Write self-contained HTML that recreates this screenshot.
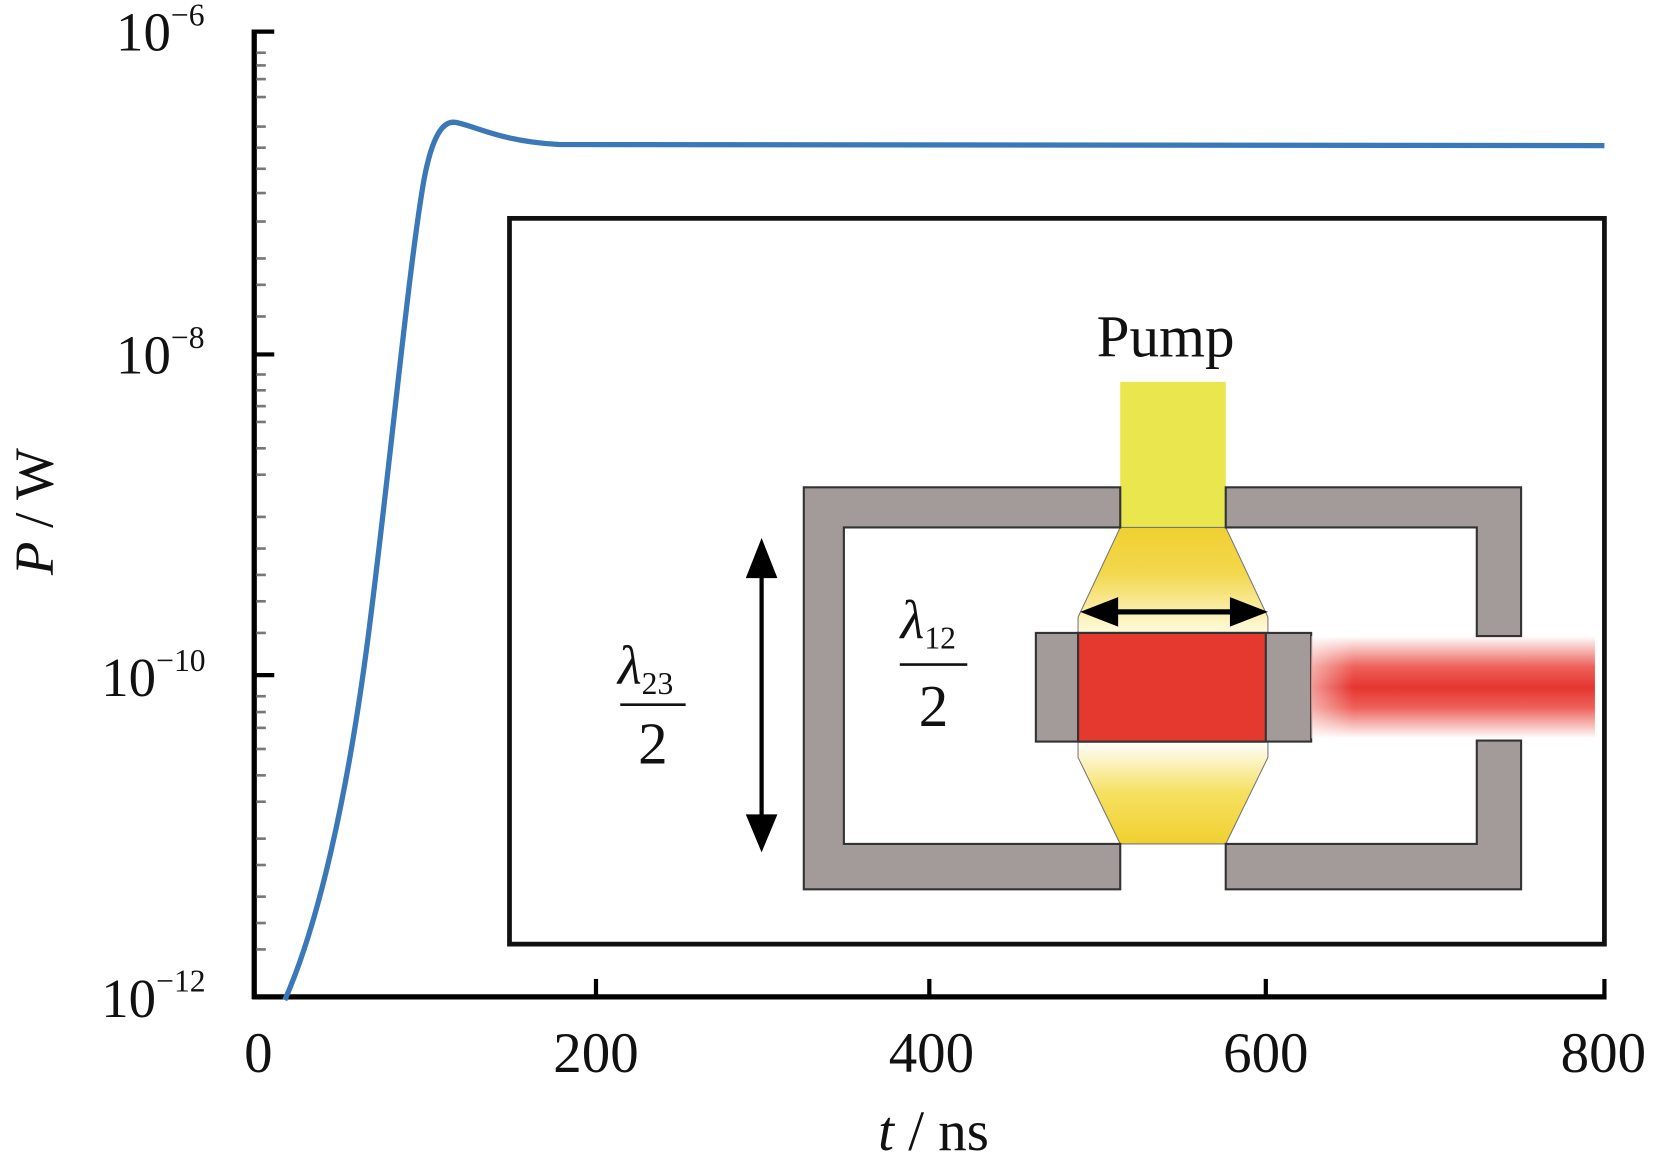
<!DOCTYPE html>
<html><head><meta charset="utf-8"><style>html,body{margin:0;padding:0;background:#fff}svg{display:block}svg text{font-family:"Liberation Serif","Times New Roman",serif}</style></head>
<body>
<svg width="1654" height="1153" viewBox="0 0 1568 1093" preserveAspectRatio="none" xmlns="http://www.w3.org/2000/svg">
<defs>
<linearGradient id="yt" x1="0" y1="0" x2="0" y2="1"><stop offset="0" stop-color="#f0d030"/><stop offset="0.45" stop-color="#f3d850"/><stop offset="1" stop-color="#fffbe0"/></linearGradient>
<linearGradient id="yb" x1="0" y1="0" x2="0" y2="1"><stop offset="0" stop-color="#ffffff"/><stop offset="0.5" stop-color="#f6e060"/><stop offset="1" stop-color="#f0d030"/></linearGradient>
<linearGradient id="rb" x1="0" y1="0" x2="0" y2="1"><stop offset="0" stop-color="#e83a30" stop-opacity="0"/><stop offset="0.3" stop-color="#e83a30" stop-opacity="0.8"/><stop offset="0.5" stop-color="#e53530"/><stop offset="0.7" stop-color="#e83a30" stop-opacity="0.8"/><stop offset="1" stop-color="#e83a30" stop-opacity="0"/></linearGradient>
<linearGradient id="rbx" x1="0" y1="0" x2="1" y2="0"><stop offset="0" stop-color="#fff" stop-opacity="0.5"/><stop offset="0.15" stop-color="#fff" stop-opacity="0"/></linearGradient>
</defs>
<g stroke="#000" stroke-width="5" fill="none">
<line x1="241" y1="28" x2="241" y2="947"/>
<line x1="239" y1="945" x2="1523" y2="945"/>
</g>
<g stroke="#000" stroke-width="4">
<line x1="241" y1="30" x2="260" y2="30"/><line x1="241" y1="336" x2="260" y2="336"/><line x1="241" y1="640" x2="260" y2="640"/>
<line x1="565" y1="945" x2="565" y2="928"/><line x1="881" y1="945" x2="881" y2="928"/><line x1="1200" y1="945" x2="1200" y2="928"/><line x1="1521" y1="945" x2="1521" y2="928"/>
</g>
<g stroke="#777" stroke-width="2.5">
<line x1="243" y1="50" x2="252" y2="50"/><line x1="243" y1="62" x2="252" y2="62"/><line x1="243" y1="75" x2="252" y2="75"/><line x1="243" y1="92" x2="252" y2="92"/><line x1="243" y1="120" x2="252" y2="120"/><line x1="243" y1="140" x2="252" y2="140"/><line x1="243" y1="160" x2="252" y2="160"/><line x1="243" y1="183" x2="252" y2="183"/><line x1="243" y1="210" x2="252" y2="210"/><line x1="243" y1="245" x2="252" y2="245"/><line x1="243" y1="270" x2="252" y2="270"/><line x1="243" y1="300" x2="252" y2="300"/>
<line x1="243" y1="355" x2="252" y2="355"/><line x1="243" y1="370" x2="252" y2="370"/><line x1="243" y1="385" x2="252" y2="385"/><line x1="243" y1="400" x2="252" y2="400"/><line x1="243" y1="425" x2="252" y2="425"/><line x1="243" y1="450" x2="252" y2="450"/><line x1="243" y1="490" x2="252" y2="490"/><line x1="243" y1="520" x2="252" y2="520"/><line x1="243" y1="545" x2="252" y2="545"/><line x1="243" y1="570" x2="252" y2="570"/><line x1="243" y1="600" x2="252" y2="600"/>
<line x1="243" y1="660" x2="252" y2="660"/><line x1="243" y1="675" x2="252" y2="675"/><line x1="243" y1="690" x2="252" y2="690"/><line x1="243" y1="710" x2="252" y2="710"/><line x1="243" y1="735" x2="252" y2="735"/><line x1="243" y1="760" x2="252" y2="760"/><line x1="243" y1="795" x2="252" y2="795"/><line x1="243" y1="820" x2="252" y2="820"/><line x1="243" y1="850" x2="252" y2="850"/><line x1="243" y1="875" x2="252" y2="875"/><line x1="243" y1="900" x2="252" y2="900"/>
</g>
<g font-size="52" fill="#111">
<text x="110" y="48">10<tspan font-size="30" dy="-24">−6</tspan></text>
<text x="110" y="354">10<tspan font-size="30" dy="-24">−8</tspan></text>
<text x="96" y="660">10<tspan font-size="30" dy="-24">−10</tspan></text>
<text x="96" y="964">10<tspan font-size="30" dy="-24">−12</tspan></text>
</g>
<g font-size="54" fill="#111" text-anchor="middle">
<text x="245" y="1016">0</text><text x="565" y="1016">200</text><text x="883" y="1016">400</text><text x="1200" y="1016">600</text><text x="1520" y="1016">800</text>
<text x="885" y="1090"><tspan font-style="italic">t</tspan> / ns</text>
</g>
<text transform="translate(50,485) rotate(-90)" font-size="52" text-anchor="middle" fill="#111"><tspan font-style="italic">P</tspan> / W</text>
<path d="M270,948 C300,880 330,760 352,580 C372,420 388,250 402,170 C410,128 420,114 432,116 C452,120 475,134 530,137 L1521,138" fill="none" stroke="#3a78b8" stroke-width="5"/>
<rect x="483" y="207" width="1038" height="688" fill="#fff" stroke="#111" stroke-width="4.5"/>
<text x="1105" y="338" font-size="56" text-anchor="middle" fill="#111">Pump</text>
<rect x="1062" y="362" width="100" height="140" fill="#eae64e"/>
<path d="M1062,500 L1162,500 L1202,585 L1202,600 L1022,600 L1022,585 Z" fill="url(#yt)" stroke="#777" stroke-width="1"/>
<path d="M1022,703 L1202,703 L1202,718 L1162,800 L1062,800 L1022,718 Z" fill="url(#yb)" stroke="#777" stroke-width="1"/>
<g fill="#a39b99" stroke="#333" stroke-width="2">
<path d="M762,462 L1062,462 L1062,500 L800,500 L800,800 L1062,800 L1062,843 L762,843 Z"/>
<path d="M1162,462 L1442,462 L1442,603 L1400,603 L1400,500 L1162,500 Z"/>
<path d="M1162,800 L1400,800 L1400,702 L1442,702 L1442,843 L1162,843 Z"/>
<rect x="982" y="600" width="261" height="103"/>
</g>
<rect x="1022" y="600" width="178" height="103" fill="#e53930" stroke="#333" stroke-width="2"/>
<rect x="1243" y="603" width="269" height="97" fill="url(#rb)"/>
<rect x="1243" y="603" width="269" height="97" fill="url(#rbx)"/>
<line x1="1045" y1="580" x2="1180" y2="580" stroke="#000" stroke-width="5"/>
<path d="M1024,580 L1060,566 L1060,594 Z M1202,580 L1166,566 L1166,594 Z" fill="#000"/>
<line x1="722" y1="535" x2="722" y2="785" stroke="#000" stroke-width="4"/>
<path d="M722,510 L707,548 L737,548 Z M722,808 L707,772 L737,772 Z" fill="#000"/>
<g fill="#111" text-anchor="middle">
<text x="612" y="648" font-size="52" font-style="italic">λ<tspan font-size="30" font-style="normal" dy="10">23</tspan></text>
<line x1="588" y1="668" x2="650" y2="668" stroke="#111" stroke-width="2.5"/>
<text x="619" y="724" font-size="56">2</text>
<text x="880" y="605" font-size="52" font-style="italic">λ<tspan font-size="30" font-style="normal" dy="10">12</tspan></text>
<line x1="853" y1="630" x2="917" y2="630" stroke="#111" stroke-width="2.5"/>
<text x="885" y="688" font-size="56">2</text>
</g>
</svg>
</body></html>
